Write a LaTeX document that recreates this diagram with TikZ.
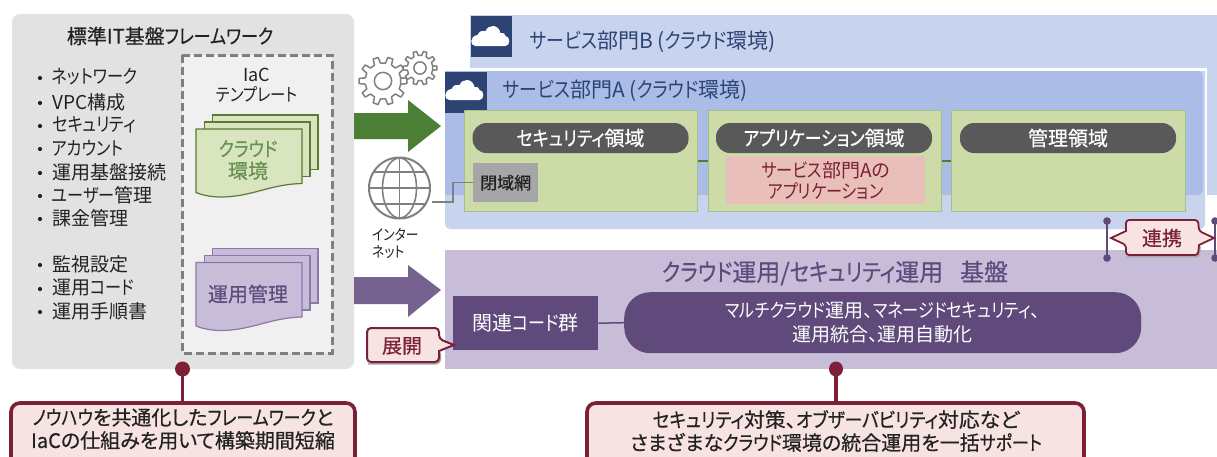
\documentclass[tikz,border=0pt]{standalone}
\usepackage{graphicx}
\usepackage{fontspec}
\setmainfont{Noto Sans CJK JP}[RawFeature={+palt}]
\newfontfamily\semib{Noto Sans CJK JP}[RawFeature={+palt},FakeBold=0.5]
\newcommand{\K}[1]{\scalebox{0.85}[1]{#1}}
\usetikzlibrary{arrows.meta,calc}
\definecolor{ink}{HTML}{222222}
\definecolor{panelgray}{HTML}{E2E2E2}
\definecolor{iacgray}{HTML}{F0F0F0}
\definecolor{dashgray}{HTML}{7F7F7F}
\definecolor{iconGray}{HTML}{808080}
\definecolor{bblue}{HTML}{C8D3EE}
\definecolor{ablue}{HTML}{ABBDE6}
\definecolor{navy}{HTML}{2C4374}
\definecolor{green}{HTML}{CDDBA9}
\definecolor{docgreen}{HTML}{D9E5BF}
\definecolor{dgreen}{HTML}{4C7F36}
\definecolor{docline}{HTML}{5C7A34}
\definecolor{pilldark}{HTML}{595959}
\definecolor{lpurple}{HTML}{C8BDD9}
\definecolor{purple}{HTML}{5F4A7B}
\definecolor{mpurple}{HTML}{75628F}
\definecolor{docpline}{HTML}{8D78AE}
\definecolor{wine}{HTML}{7B2036}
\definecolor{pink}{HTML}{F7E4E2}
\definecolor{appred}{HTML}{E9C0B9}
\definecolor{closed}{HTML}{A6A6A6}
\tikzset{
  x=1pt,y=-1pt,
  txt/.style={inner sep=0pt,align=center,font=\fontsize{#1}{#1}\selectfont,text=ink},
  txt/.default=19,
  zone/.style={draw=green!70!dgreen,line width=1pt,fill=green},
  pill/.style={fill=pilldark,rounded corners=14pt,text=white,inner sep=0pt,font=\fontsize{20}{20}\semib},
  wineline/.style={draw=wine,line width=3.2pt},
  linkline/.style={draw=purple,line width=2.8pt},
  docf/.style={line width=1.2pt},
}
\newcommand{\docstack}[4]{% x y fill draw
  \begin{scope}[shift={(#1,#2)}]
  \filldraw[docf,fill=#3,draw=#4] (16.5,0) rectangle (122,54.5);
  \filldraw[docf,fill=#3,draw=#4] (8.5,7) rectangle (114,61.5);
  \filldraw[docf,fill=#3,draw=#4] (0,14) -- (106,14) -- (106,68.5) .. controls (75,69) and (55,82) .. (25,82) .. controls (15,82) and (6,80) .. (0,77.5) -- cycle;
  \end{scope}}
\newcommand{\gear}[4]{% x y router teeth
  \begin{scope}[shift={(#1,#2)},x=1pt,y=1pt]
  \path[fill=white,draw=iconGray,line width=1.5pt,line join=round]
   ({360/#4*(-0.28)}:#3*0.75)
   \foreach \i in {0,...,#4}{
    -- ({360/#4*(\i-0.28)}:#3*0.75) -- ({360/#4*(\i-0.17)}:#3) -- ({360/#4*(\i+0.17)}:#3) -- ({360/#4*(\i+0.28)}:#3*0.75)
   } -- cycle;
  \draw[iconGray,line width=1.5pt] (0,0) circle[radius=#3*0.36];
  \end{scope}}
\begin{document}
\begin{tikzpicture}
\useasboundingbox (0,0) rectangle (1217,456);
\fill[white] (0,0) rectangle (1217,456);
% left panel
\fill[panelgray,rounded corners=8pt] (12,14) rectangle (354,369);
\node[txt=20,font=\fontsize{20}{20}\semib] (ttl) at (170,36) {標準IT基盤\K{フレームワーク}};
\foreach \yy/\tt in {77/\K{ネットワーク},102/VPC構成,125/\K{セキュリティ},148/\K{アカウント},172/運用基盤接続,195/\K{ユーザー}管理,218/課金管理,264/監視設定,288/運用\K{コード},311/運用手順書}{
  \fill[ink] (40,\yy+1) circle[radius=2.1pt];
  \node[txt=19,anchor=west] at (52,\yy) {\tt};
}
\draw[dashgray,fill=iacgray,line width=3pt,dash pattern=on 8pt off 4pt] (182,55) rectangle (332,353);
\node[txt=18,font=\fontsize{18}{20}\selectfont] (iac) at (257,85) {IaC\\\K{テンプレート}};
\docstack{196}{115}{docgreen}{docline}
\docstack{196}{248.5}{lpurple}{docpline}
\node[txt=20,text=dgreen!85!white,font=\fontsize{20}{22}\semib] (cloudenv) at (248,160) {\K{クラウド}\\環境};
\node[txt=20,text=purple,font=\fontsize{20}{20}\semib] (ops) at (248,294) {運用管理};
% callout left
\draw[wineline,line width=3.6pt,fill=pink,rounded corners=9pt] (11,403) rectangle (355,470);
\fill[wine] (182.5,369) circle[radius=7.5pt];
\draw[wineline] (182.5,369) -- (182.5,402);
\node[txt=20,font=\fontsize{20}{23}\semib] (note1) at (183,429) {\K{ノウハウ}を共通化した\K{フレームワーク}と\\IaCの仕組みを用いて構築期間短縮};
% B panel
\fill[bblue] (470,15) rectangle (1217,68);
\fill[navy] (471,16) rectangle (512,57);
\node[txt=21,text=navy,anchor=west] (btitle) at (530,42) {\K{サービス}部門B (\K{クラウド}環境)};
% A panel
\fill[bblue] (445,71) [rounded corners=5pt] -- (445,229) -- (1205,229) [sharp corners] -- (1205,71) -- cycle;
\fill[bblue] (1207,68) rectangle (1217,195);
\fill[ablue,rounded corners=5pt] (445,71) -- (1203,71) -- (1203,195) [sharp corners] -- (445,195) -- cycle;
\fill[navy] (445,72) rectangle (487,113);
\node[txt=21,text=navy,anchor=west] (atitle) at (503,91) {\K{サービス}部門A (\K{クラウド}環境)};
\foreach \cx/\cy/\s in {491.5/37/1,465.5/91/1}{
  \fill[white,shift={(\cx,\cy)},scale=\s] (-16,9) .. controls (-22,9) and (-22,-1) .. (-14,-2) .. controls (-12,-6) and (-9,-7) .. (-6,-6) .. controls (-3,-13) and (7,-13) .. (9,-4) .. controls (12,-4) and (14,-4) .. (14,-1) .. controls (19,-1) and (19,9) .. (14,9) -- cycle;
}
% zones
\node[zone,minimum width=233pt,minimum height=101pt,inner sep=0pt,anchor=north west] (z1) at (464,110) {};
\node[zone,minimum width=233pt,minimum height=101pt,inner sep=0pt,anchor=north west] (z2) at (708,110) {};
\node[zone,minimum width=234pt,minimum height=101pt,inner sep=0pt,anchor=north west] (z3) at (951,110) {};
\draw[dgreen,line width=1.2pt] (z1.east |- 0,161) -- (z2.west |- 0,161);
\draw[dgreen,line width=1.2pt] (z2.east |- 0,161) -- (z3.west |- 0,161);
\node[pill,minimum width=216pt,minimum height=30pt] (p1) at (580.5,138) {\K{セキュリティ}領域};
\node[pill,minimum width=216pt,minimum height=30pt] (p2) at (824,138) {\K{アプリケーション}領域};
\node[pill,minimum width=216pt,minimum height=30pt] (p3) at (1068,138) {管理領域};
\node[fill=closed,minimum width=65pt,minimum height=39pt,inner sep=0pt,anchor=north west,font=\fontsize{17}{17}\semib,text=ink] (closednet) at (473,163) {閉域網};
\node[fill=appred,minimum width=199pt,minimum height=48pt,inner sep=0pt,anchor=north west,align=center,font=\fontsize{19}{21}\selectfont,text=wine] (app) at (726,156) {\K{サービス}部門Aの\\\K{アプリケーション}};
% globe
\node[circle,draw=iconGray,line width=2pt,minimum size=61pt,inner sep=0pt] (globe) at (399.5,188) {};
\begin{scope}
\clip (399.5,188) circle[radius=30pt];
\draw[iconGray,line width=1.6pt] (399.5,157) -- (399.5,219) (368,188) -- (431,188) (370,172) -- (429,172) (370,204) -- (429,204);
\draw[iconGray,line width=1.6pt] (399.5,188) ellipse[x radius=17pt,y radius=30pt];
\end{scope}
\coordinate (glout) at (432,202);
\draw[iconGray,line width=1.5pt] (glout) -- ++(21,0) |- (closednet.west);
\node[txt=15,align=left,anchor=west,font=\fontsize{15}{17}\selectfont] (inet) at (372,243) {\K{インター}\\\K{ネット}};
% gears
\gear{383}{81}{24}{10}
\gear{420}{68}{17}{10}
% arrows
\fill[dgreen] (354,113) -- (408,113) -- (408,100) -- (441,126) -- (408,152) -- (408,139) -- (354,139) -- cycle;
\fill[mpurple] (354,277) -- (408,277) -- (408,265) -- (441,290) -- (408,317) -- (408,304) -- (354,304) -- cycle;
% ops platform
\fill[lpurple] (445,250) rectangle (1217,369);
\node[txt=23,text=purple,font=\fontsize{24}{24}\semib] (opt) at (835,273) {\K{クラウド}運用/\K{セキュリティ}運用\hspace{0.7em}基盤};
\node[fill=purple,minimum width=145pt,minimum height=54pt,inner sep=0pt,anchor=north west,text=white,font=\fontsize{20}{20}\selectfont] (code) at (453,296) {関連\K{コード}群};
\node[fill=purple,rounded corners=26pt,minimum width=517pt,minimum height=61pt,inner sep=0pt,anchor=north west,text=white,align=center,font=\fontsize{19}{24}\selectfont] (multi) at (624,292) {\K{マルチクラウド}運用、\K{マネージドセキュリティ}、\\運用統合、運用自動化};
\draw[purple,line width=1.5pt] (code.east) -- (multi.west);
% deploy
\coordinate (deploytip) at (454,345);
\draw[gray!70,line width=2pt,rounded corners=4pt,shift={(1,1.5)}] (367,362) -- (439,362) -- (439,351);
\draw[wine,fill=pink,line width=2pt,rounded corners=4pt] (367,328) -- (439,328) -- (439,339) [sharp corners] -- (deploytip) -- (439,351) [rounded corners=4pt] -- (439,362) -- (367,362) -- cycle;
\node[txt=20,text=wine,font=\fontsize{20}{20}\semib] (deploy) at (402,346) {展開};
% renkei
\draw[linkline] (1107,222) -- (1107,258);
\draw[linkline] (1215,222) -- (1215,258);
\fill[purple] (1107,221) circle[radius=3.8pt] (1107,258) circle[radius=3.8pt] (1215,221) circle[radius=3.8pt] (1215,258) circle[radius=3.8pt];
\draw[gray!70,line width=1.8pt,rounded corners=3pt,shift={(1,1.5)}] (1126,255) -- (1198,255) -- (1199,245);
\draw[wine,fill=pink,line width=1.8pt,rounded corners=3pt] (1126,220) -- (1198,220) -- (1199,231) [sharp corners] -- (1214,238) -- (1199,245) [rounded corners=3pt] -- (1198,255) -- (1126,255) -- (1126,245) [sharp corners] -- (1111,238) -- (1126,231) [rounded corners=3pt] -- cycle;
\node[txt=20,text=wine,font=\fontsize{20}{20}\semib] (renkei) at (1162,238) {連携};
% callout right
\draw[wineline,line width=3.6pt,fill=pink,rounded corners=9pt] (587,403) rectangle (1084,470);
\fill[wine] (836,369) ellipse[x radius=7pt,y radius=7.5pt];
\draw[wineline] (836,369) -- (836,402);
\node[txt=20,font=\fontsize{20}{23}\semib] (note2) at (836,431) {\scalebox{1.04}[1]{\K{セキュリティ}対策、\K{オブザーバビリティ}対応など}\\さまざまな\K{クラウド}環境の統合運用を一括\K{サポート}};
\end{tikzpicture}
\end{document}
